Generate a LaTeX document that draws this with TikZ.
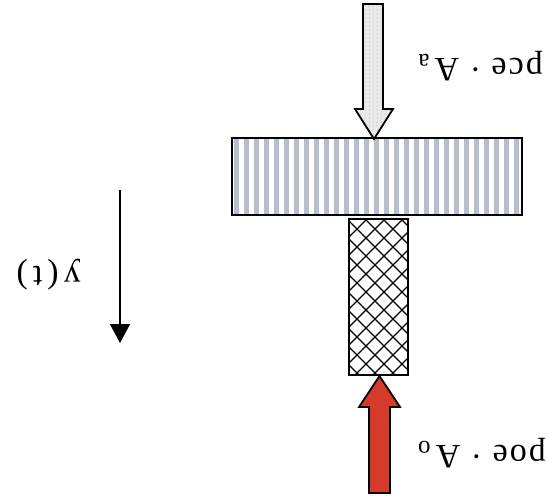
\documentclass[tikz,border=0pt]{standalone}
\usepackage{fontspec}
\setmainfont{Liberation Serif}
\newfontfamily\lblfont[LetterSpace=6]{Liberation Serif}
\newfontfamily\ytfont[LetterSpace=15]{Liberation Serif}
\usetikzlibrary{arrows.meta}
\definecolor{redarrow}{RGB}{214,58,42}
\definecolor{stripe}{RGB}{184,190,206}
\definecolor{lightfill}{RGB}{234,234,234}
\definecolor{dotcol}{RGB}{150,150,150}
\begin{document}
\begin{tikzpicture}[x=1pt,y=-1pt,line join=miter,
  outl/.style={draw=black,line width=1.8pt},
  hatchline/.style={line width=1.2pt,black},
  lbl/.style={rotate=180,inner sep=0pt,anchor=base west,font=\lblfont\fontsize{34}{36}\selectfont},
  ylbl/.style={rotate=180,inner sep=0pt,anchor=base west,font=\ytfont\fontsize{34}{36}\selectfont}
]
\useasboundingbox (0,0) rectangle (547,500);
\fill[white] (0,0) rectangle (547,500);
% plate
\coordinate (plateNW) at (232,138);
\coordinate (plateSE) at (522,215);
\begin{scope}
  \clip (plateNW) rectangle (plateSE);
  \fill[white] (plateNW) rectangle (plateSE);
  \foreach \x in {234,244,...,524} \fill[stripe] (\x,130) rectangle ++(5,90);
\end{scope}
\draw[outl] (plateNW) rectangle (plateSE);
% cross-hatched block
\coordinate (hatchNW) at (349,219);
\coordinate (hatchSE) at (408,375);
\begin{scope}
  \clip (hatchNW) rectangle (hatchSE);
  \fill[white] (hatchNW) rectangle (hatchSE);
  \foreach \x in {149,167,...,420} \draw[hatchline] (\x,219) -- ++(200,200);
  \foreach \x in {349,367,...,620} \draw[hatchline] (\x,219) -- ++(-200,200);
\end{scope}
\draw[outl] (hatchNW) rectangle (hatchSE);
% top arrow (light, dotted)
\def\toparrow{(363,4) -- (383,4) -- (383,109) -- (393,109) -- (374,139) -- (355,109) -- (363,109) -- cycle}
\fill[lightfill] \toparrow;
\begin{scope}
  \clip \toparrow;
  \foreach \x in {357,361,...,393}
    \foreach \y in {6,10,...,138}
      \fill[dotcol] (\x,\y) circle (0.5);
\end{scope}
\draw[outl] \toparrow;
% red arrow
\draw[outl,fill=redarrow] (369,493) -- (390,493) -- (390,407) -- (400,407) -- (379.5,376) -- (359,407) -- (369,407) -- cycle;
% y(t) arrow
\coordinate (yTop) at (120,190);
\coordinate (yTip) at (120,343);
\draw[line width=1.6pt,-{Triangle[width=20pt,length=19pt]}] (yTop) -- (yTip);
% labels (upside down)
\node[lbl] (pce) at (543,59) {pce · A\hspace{5pt}\raisebox{-4pt}{\fontsize{25}{25}\selectfont a}};
\node[lbl] (poe) at (546,445) {poe · A\hspace{5pt}\raisebox{-4pt}{\fontsize{25}{25}\selectfont o}};
\node[ylbl] (yt) at (81,267) {y(t)};
\end{tikzpicture}
\end{document}
